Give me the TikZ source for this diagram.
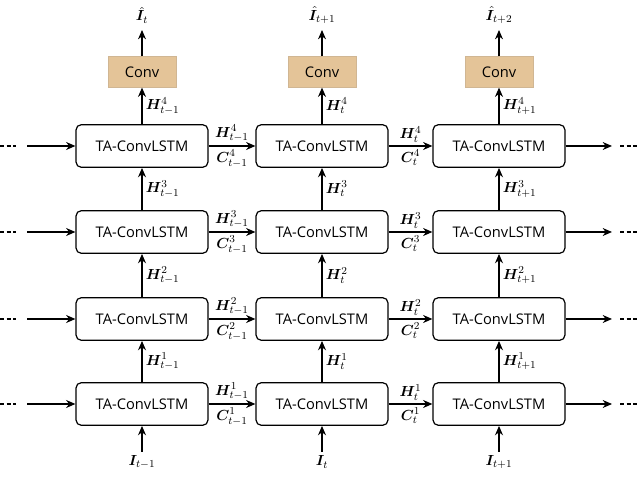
\documentclass[tikz,border=0pt]{standalone}
\usepackage{amsmath,bm}
\usepackage{fontspec}
\newfontfamily\boxfont{Open Sans}
\usetikzlibrary{arrows.meta}
\definecolor{tan}{RGB}{228,196,152}
\begin{document}
\begin{tikzpicture}[x=0.75pt,y=-0.75pt,
  cell/.style={draw,line width=0.9pt,rounded corners=4pt,minimum width=99pt,minimum height=32pt,inner sep=0pt,font=\boxfont\fontsize{11}{12}\selectfont},
  conv/.style={fill=tan,draw=tan!80!gray,minimum width=51pt,minimum height=23pt,inner sep=0pt,font=\boxfont\fontsize{11}{12}\selectfont},
  arr/.style={-{Stealth[length=7pt,width=6pt]},line width=0.9pt},
  lab/.style={font=\fontsize{11}{12}\selectfont,inner sep=0.5pt}]
\useasboundingbox (0,0) rectangle (640,491);
\foreach \c/\x in {1/142,2/322,3/499}{
  \foreach \r/\y in {1/404,2/319,3/232,4/146}{
    \node[cell] (b\c\r) at (\x,\y) {TA-ConvLSTM};
  }
  \node[conv] (cv\c) at (\x,72) {Conv};
  \coordinate (in\c) at (\x,452);
  \coordinate (out\c) at (\x,30);
}
\node[lab] at (142,15) {$\hat{\bm I}_{t}$};
\node[lab] at (322,15) {$\hat{\bm I}_{t+1}$};
\node[lab] at (499,15) {$\hat{\bm I}_{t+2}$};
\node[lab] at (142,462) {$\bm I_{t-1}$};
\node[lab] at (322,462) {$\bm I_{t}$};
\node[lab] at (499,462) {$\bm I_{t+1}$};
\foreach \c/\s in {1/{t-1},2/{t},3/{t+1}}{
  \draw[arr] (in\c) -- (b\c1);
  \foreach \r/\n in {1/2,2/3,3/4}{
    \draw[arr] (b\c\r) -- node[lab,right=2pt,pos=0.5]{$\bm H^{\r}_{\s}$} (b\c\n);
  }
  \draw[arr] (b\c4) -- node[lab,right=2pt,pos=0.5]{$\bm H^{4}_{\s}$} (cv\c);
  \draw[arr] (cv\c) -- (out\c);
}
\foreach \r/\y in {1/404,2/319,3/232,4/146}{
  \coordinate (l\r) at (27,\y);
  \coordinate (r\r) at (612,\y);
  \draw[line width=0.9pt,dash pattern=on 3pt off 2pt] (0,\y) -- (16,\y);
  \draw[line width=0.9pt,dash pattern=on 3pt off 2pt] (620,\y) -- (640,\y);
  \draw[arr] (l\r) -- (b1\r);
  \draw[arr] (b1\r) -- node[lab,above=2pt]{$\bm H^{\r}_{t-1}$} node[lab,below=2pt]{$\bm C^{\r}_{t-1}$} (b2\r);
  \draw[arr] (b2\r) -- node[lab,above=2pt]{$\bm H^{\r}_{t}$} node[lab,below=2pt]{$\bm C^{\r}_{t}$} (b3\r);
  \draw[arr] (b3\r) -- (r\r);
}
\end{tikzpicture}
\end{document}
